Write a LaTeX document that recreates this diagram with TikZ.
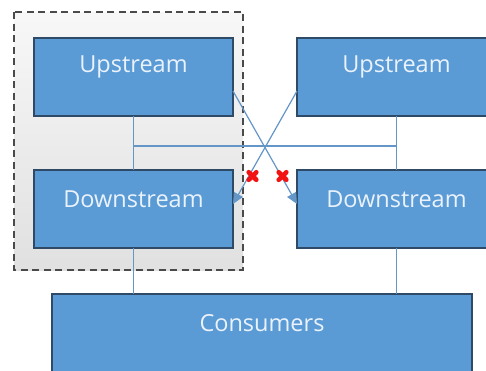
\documentclass[tikz,border=0pt]{standalone}
\usepackage{fontspec}
\setmainfont{Open Sans}
\usetikzlibrary{arrows.meta}
\definecolor{boxblue}{HTML}{5B9BD5}
\definecolor{boxedge}{HTML}{2F4A66}
\definecolor{wire}{HTML}{6496C8}
\definecolor{labeltext}{HTML}{EAF2FB}
\definecolor{blockred}{HTML}{F21212}
\definecolor{groupedge}{HTML}{4A4A4A}
\begin{document}
\begin{tikzpicture}[x=1pt,y=-1pt,
  box/.style={draw=boxedge, line width=1.2pt, fill=boxblue, rectangle,
    inner sep=0pt, outer sep=0pt, minimum width=199pt, minimum height=78pt},
  boxlabel/.style={text=labeltext, font=\fontsize{23.5}{27}\selectfont},
  wireline/.style={draw=wire, line width=1.2pt},
  link/.style={wireline, -{Triangle[length=11pt,width=10pt]}},
  blocked/.style={draw=blockred, line width=4.6pt, line cap=round},
  group/.style={draw=groupedge, line width=1.5pt, dash pattern=on 7pt off 4.5pt,
    top color=gray!6, bottom color=gray!24}]
\useasboundingbox (0,0) rectangle (486,370);
\clip (0,0) rectangle (486,370);
\fill[white] (0,0) rectangle (486,370);

% grouped primary pair
\draw[group] (14,12) rectangle (243,270);

% boxes
\node[box, label={[boxlabel, yshift=10pt]center:Upstream}] (upL) at (133.5,77) {};
\node[box, label={[boxlabel, yshift=10pt]center:Downstream}] (downL) at (133.5,209) {};
\node[box, label={[boxlabel, yshift=10pt]center:Upstream}] (upR) at (396.5,77) {};
\node[box, label={[boxlabel, yshift=10pt]center:Downstream}] (downR) at (396.5,209) {};
\node[box, minimum width=420pt, minimum height=86pt,
  label={[boxlabel, yshift=14pt]center:Consumers}] (cons) at (262,337) {};

% shared bus between the two pairs
\coordinate (busL) at (133.5,146);
\coordinate (busR) at (396.5,146);
\draw[wireline] (upL.south) -- (busL) -- (downL.north);
\draw[wireline] (upR.south) -- (busR) -- (downR.north);
\draw[wireline] (busL) -- (busR);

% cross links
\draw[link] ([yshift=-14pt]upL.east) -- ([yshift=5pt]downR.west);
\draw[link] ([yshift=-14pt]upR.west) -- ([yshift=5pt]downL.east);

% blocked markers
\coordinate (xa) at (252.5,176);
\coordinate (xb) at (282.5,176);
\foreach \c in {xa,xb} {
  \draw[blocked] ([shift={(-3.8,-3.8)}]\c) -- ([shift={(3.8,3.8)}]\c);
  \draw[blocked] ([shift={(-3.8,3.8)}]\c) -- ([shift={(3.8,-3.8)}]\c);
}

% feeds to consumers
\draw[wireline] (downL.south) -- (downL.south |- cons.north);
\draw[wireline] (downR.south) -- (downR.south |- cons.north);
\end{tikzpicture}
\end{document}
